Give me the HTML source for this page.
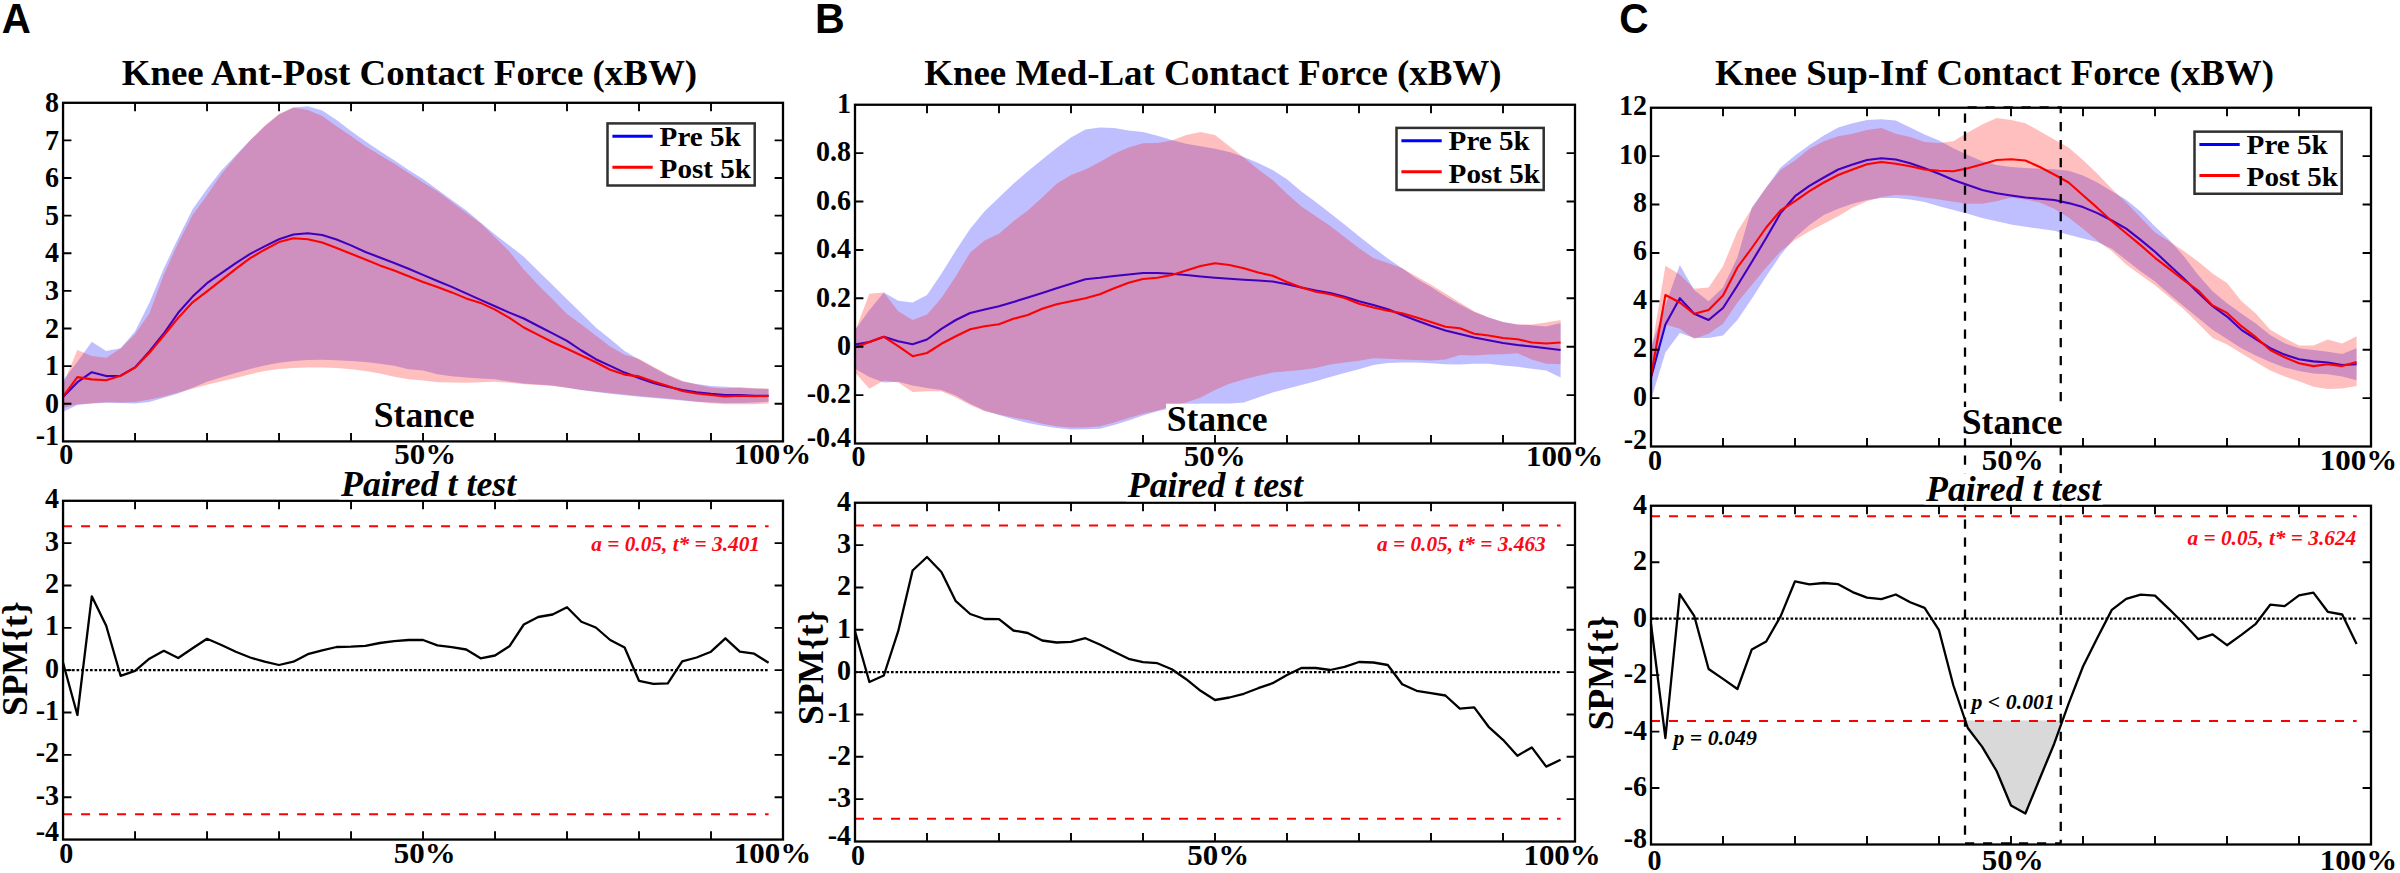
<!DOCTYPE html>
<html lang="en"><head><meta charset="utf-8"><title>Knee contact force SPM figure</title>
<style>html,body{margin:0;padding:0;background:#fff}svg{display:block}</style></head>
<body><svg width="2400" height="873" viewBox="0 0 2400 873">
<rect x="0" y="0" width="2400" height="873" fill="#fff"/>
<text transform="translate(1.64,32.90) scale(0.953,1)" font-family='"Liberation Sans", sans-serif' font-size="42.3" font-weight="bold" font-style="normal" text-anchor="start" fill="#000">A</text>
<text transform="translate(815.10,32.90) scale(0.973,1)" font-family='"Liberation Sans", sans-serif' font-size="42.3" font-weight="bold" font-style="normal" text-anchor="start" fill="#000">B</text>
<text transform="translate(1619.30,32.50) scale(0.96,1)" font-family='"Liberation Sans", sans-serif' font-size="42.3" font-weight="bold" font-style="normal" text-anchor="start" fill="#000">C</text>
<g>
<polygon points="63.0,380.5 77.4,361.7 91.8,341.7 106.2,350.9 120.6,348.3 135.0,331.5 149.4,302.7 163.8,268.4 178.2,238.0 192.6,209.3 207.0,189.0 221.4,170.4 235.8,155.2 250.2,140.3 264.6,126.6 279.0,114.6 293.4,107.6 307.8,106.3 322.2,110.4 336.6,119.9 351.0,131.1 365.4,141.2 379.8,151.1 394.2,160.3 408.6,169.9 423.0,179.1 437.4,189.4 451.8,199.9 466.2,210.3 480.6,222.4 495.0,234.4 509.4,245.5 523.8,256.7 538.2,270.9 552.6,285.0 567.0,299.2 581.4,313.3 595.8,327.5 610.2,339.1 624.6,351.0 639.0,359.5 653.4,367.5 667.8,375.3 682.2,381.4 696.6,384.1 711.0,386.0 725.4,386.8 739.8,388.0 754.2,388.6 768.6,388.9 768.6,401.8 754.2,402.5 739.8,402.9 725.4,403.0 711.0,402.6 696.6,401.7 682.2,400.6 667.8,399.3 653.4,398.0 639.0,396.8 624.6,395.3 610.2,393.7 595.8,392.0 581.4,390.1 567.0,387.7 552.6,385.5 538.2,384.6 523.8,383.6 509.4,381.4 495.0,379.3 480.6,378.4 466.2,377.6 451.8,376.3 437.4,374.2 423.0,370.5 408.6,369.2 394.2,365.7 379.8,363.7 365.4,362.1 351.0,361.0 336.6,360.2 322.2,359.8 307.8,360.1 293.4,361.0 279.0,362.8 264.6,365.5 250.2,369.0 235.8,373.0 221.4,377.2 207.0,381.8 192.6,387.8 178.2,393.6 163.8,397.7 149.4,401.9 135.0,403.6 120.6,402.9 106.2,402.7 91.8,403.5 77.4,405.0 63.0,411.8" fill="#0000ff" fill-opacity="0.25"/>
<polyline points="63.0,397.0 77.4,382.2 91.8,372.2 106.2,376.1 120.6,375.7 135.0,367.4 149.4,351.4 163.8,333.5 178.2,312.8 192.6,296.6 207.0,283.2 221.4,273.2 235.8,263.1 250.2,253.9 264.6,246.4 279.0,239.3 293.4,234.5 307.8,233.3 322.2,235.0 336.6,239.5 351.0,245.4 365.4,252.0 379.8,257.4 394.2,262.9 408.6,268.7 423.0,274.9 437.4,281.0 451.8,286.9 466.2,293.4 480.6,299.9 495.0,306.2 509.4,312.6 523.8,318.5 538.2,326.0 552.6,333.4 567.0,340.9 581.4,350.5 595.8,359.2 610.2,365.9 624.6,372.6 639.0,377.9 653.4,383.1 667.8,386.8 682.2,390.1 696.6,392.4 711.0,393.9 725.4,395.0 739.8,395.0 754.2,395.7 768.6,395.7" fill="none" stroke="#0000ff" stroke-width="2.1" stroke-linejoin="round"/>
<polygon points="63.0,384.6 77.4,350.0 91.8,356.0 106.2,357.8 120.6,348.4 135.0,334.2 149.4,313.5 163.8,274.8 178.2,243.0 192.6,215.1 207.0,195.3 221.4,174.2 235.8,156.4 250.2,140.3 264.6,125.8 279.0,113.9 293.4,107.5 307.8,110.0 322.2,116.1 336.6,126.2 351.0,136.1 365.4,146.2 379.8,154.9 394.2,163.6 408.6,172.9 423.0,182.4 437.4,191.2 451.8,201.9 466.2,212.8 480.6,223.2 495.0,237.3 509.4,251.5 523.8,269.4 538.2,285.0 552.6,299.2 567.0,314.0 581.4,324.5 595.8,335.6 610.2,346.6 624.6,354.8 639.0,358.8 653.4,366.7 667.8,374.6 682.2,380.8 696.6,384.5 711.0,387.5 725.4,388.6 739.8,387.1 754.2,388.3 768.6,388.6 768.6,403.5 754.2,404.2 739.8,404.2 725.4,404.2 711.0,403.3 696.6,401.7 682.2,400.1 667.8,398.5 653.4,397.2 639.0,396.0 624.6,394.6 610.2,393.1 595.8,391.6 581.4,389.9 567.0,387.8 552.6,386.0 538.2,385.1 523.8,384.3 509.4,382.7 495.0,381.8 480.6,382.3 466.2,382.7 451.8,382.6 437.4,382.2 423.0,380.5 408.6,379.2 394.2,376.8 379.8,373.5 365.4,371.0 351.0,369.2 336.6,368.1 322.2,367.5 307.8,367.6 293.4,368.0 279.0,369.1 264.6,371.0 250.2,374.2 235.8,378.0 221.4,381.3 207.0,384.7 192.6,388.8 178.2,392.6 163.8,396.4 149.4,399.5 135.0,402.1 120.6,402.5 106.2,402.2 91.8,403.2 77.4,404.2 63.0,408.0" fill="#ff0000" fill-opacity="0.25"/>
<polyline points="63.0,396.7 77.4,377.1 91.8,379.4 106.2,380.2 120.6,375.8 135.0,367.7 149.4,352.8 163.8,335.5 178.2,317.9 192.6,302.3 207.0,291.4 221.4,280.2 235.8,268.9 250.2,258.2 264.6,249.7 279.0,242.1 293.4,238.3 307.8,239.2 322.2,242.4 336.6,248.0 351.0,253.7 365.4,259.5 379.8,265.4 394.2,270.6 408.6,276.2 423.0,281.9 437.4,287.0 451.8,292.4 466.2,298.4 480.6,302.9 495.0,309.6 509.4,317.8 523.8,327.5 538.2,334.9 552.6,342.3 567.0,348.8 581.4,355.5 595.8,362.3 610.2,369.7 624.6,374.6 639.0,376.4 653.4,381.6 667.8,386.0 682.2,391.0 696.6,393.5 711.0,395.0 725.4,396.5 739.8,395.7 754.2,396.2 768.6,396.0" fill="none" stroke="#ff0000" stroke-width="2.1" stroke-linejoin="round"/>
</g>
<path d="M135.05,441.40v-8.4M135.05,102.80v8.4M207.04,441.40v-8.4M207.04,102.80v8.4M279.04,441.40v-8.4M279.04,102.80v8.4M351.03,441.40v-8.4M351.03,102.80v8.4M423.03,441.40v-8.4M423.03,102.80v8.4M495.02,441.40v-8.4M495.02,102.80v8.4M567.01,441.40v-8.4M567.01,102.80v8.4M639.01,441.40v-8.4M639.01,102.80v8.4M711.00,441.40v-8.4M711.00,102.80v8.4M63.05,140.42h8.4M783.00,140.42h-8.4M63.05,178.04h8.4M783.00,178.04h-8.4M63.05,215.67h8.4M783.00,215.67h-8.4M63.05,253.29h8.4M783.00,253.29h-8.4M63.05,290.91h8.4M783.00,290.91h-8.4M63.05,328.53h8.4M783.00,328.53h-8.4M63.05,366.16h8.4M783.00,366.16h-8.4M63.05,403.78h8.4M783.00,403.78h-8.4" stroke="#000" stroke-width="1.9" fill="none"/>
<rect x="63.05" y="102.80" width="719.95" height="338.60" fill="none" stroke="#000" stroke-width="2.3"/>
<text transform="translate(59.05,112.00) scale(0.96,1)" font-family='"Liberation Serif", serif' font-size="29.2" font-weight="bold" font-style="normal" text-anchor="end" fill="#000">8</text>
<text transform="translate(59.05,149.62) scale(0.96,1)" font-family='"Liberation Serif", serif' font-size="29.2" font-weight="bold" font-style="normal" text-anchor="end" fill="#000">7</text>
<text transform="translate(59.05,187.24) scale(0.96,1)" font-family='"Liberation Serif", serif' font-size="29.2" font-weight="bold" font-style="normal" text-anchor="end" fill="#000">6</text>
<text transform="translate(59.05,224.87) scale(0.96,1)" font-family='"Liberation Serif", serif' font-size="29.2" font-weight="bold" font-style="normal" text-anchor="end" fill="#000">5</text>
<text transform="translate(59.05,262.49) scale(0.96,1)" font-family='"Liberation Serif", serif' font-size="29.2" font-weight="bold" font-style="normal" text-anchor="end" fill="#000">4</text>
<text transform="translate(59.05,300.11) scale(0.96,1)" font-family='"Liberation Serif", serif' font-size="29.2" font-weight="bold" font-style="normal" text-anchor="end" fill="#000">3</text>
<text transform="translate(59.05,337.73) scale(0.96,1)" font-family='"Liberation Serif", serif' font-size="29.2" font-weight="bold" font-style="normal" text-anchor="end" fill="#000">2</text>
<text transform="translate(59.05,375.36) scale(0.96,1)" font-family='"Liberation Serif", serif' font-size="29.2" font-weight="bold" font-style="normal" text-anchor="end" fill="#000">1</text>
<text transform="translate(59.05,412.98) scale(0.96,1)" font-family='"Liberation Serif", serif' font-size="29.2" font-weight="bold" font-style="normal" text-anchor="end" fill="#000">0</text>
<text transform="translate(59.05,444.60) scale(0.96,1)" font-family='"Liberation Serif", serif' font-size="29.2" font-weight="bold" font-style="normal" text-anchor="end" fill="#000">-1</text>
<text transform="translate(121.75,85.00) scale(1.04,1)" font-family='"Liberation Serif", serif' font-size="35.5" font-weight="bold" font-style="normal" text-anchor="start" fill="#000">Knee Ant-Post Contact Force (xBW)</text>
<rect x="607.5" y="123.4" width="147.2" height="62.1" fill="#fff" stroke="#303030" stroke-width="2.5"/>
<path d="M612.40,136.25h40.3" stroke="#0000ff" stroke-width="3"/>
<path d="M612.40,167.20h40.3" stroke="#ff0000" stroke-width="3"/>
<text transform="translate(659.60,145.70) scale(1.04,1)" font-family='"Liberation Serif", serif' font-size="28.0" font-weight="bold" font-style="normal" text-anchor="start" fill="#000">Pre 5k</text>
<text transform="translate(659.60,178.00) scale(1.04,1)" font-family='"Liberation Serif", serif' font-size="28.0" font-weight="bold" font-style="normal" text-anchor="start" fill="#000">Post 5k</text>
<rect x="373.10" y="399.90" width="102.20" height="31.3" fill="#fff"/>
<text transform="translate(424.20,427.10) scale(0.995,1)" font-family='"Liberation Serif", serif' font-size="35.8" font-weight="bold" font-style="normal" text-anchor="middle" fill="#000">Stance</text>
<text transform="translate(66.20,464.40) scale(0.96,1)" font-family='"Liberation Serif", serif' font-size="29.2" font-weight="bold" font-style="normal" text-anchor="middle" fill="#000">0</text>
<text transform="translate(425.20,464.40) scale(1.06,1)" font-family='"Liberation Serif", serif' font-size="29.2" font-weight="bold" font-style="normal" text-anchor="middle" fill="#000">50%</text>
<text transform="translate(772.50,464.40) scale(1.06,1)" font-family='"Liberation Serif", serif' font-size="29.2" font-weight="bold" font-style="normal" text-anchor="middle" fill="#000">100%</text>
<g>
<polygon points="855.0,330.0 869.4,310.0 883.8,292.5 898.2,300.8 912.6,302.5 927.0,295.0 941.4,273.8 955.8,250.5 970.2,228.8 984.6,211.2 999.0,197.5 1013.4,183.8 1027.8,171.2 1042.2,159.5 1056.6,148.0 1071.0,137.5 1085.4,129.5 1099.8,127.5 1114.2,128.0 1128.6,130.5 1143.0,132.0 1157.4,135.8 1171.8,140.0 1186.2,143.8 1200.6,146.2 1215.0,148.8 1229.4,152.0 1243.8,157.0 1258.2,163.0 1272.6,170.0 1287.0,179.2 1301.4,191.6 1315.8,202.0 1330.2,213.2 1344.6,224.4 1359.0,236.3 1373.4,247.5 1387.8,258.6 1402.2,268.3 1416.6,278.8 1431.0,287.0 1445.4,296.2 1459.8,304.5 1474.2,312.0 1488.6,317.5 1503.0,322.0 1517.4,324.5 1531.8,325.2 1546.2,326.5 1560.6,323.0 1560.6,377.5 1546.2,370.5 1531.8,368.8 1517.4,366.8 1503.0,365.5 1488.6,363.8 1474.2,363.8 1459.8,364.5 1445.4,364.2 1431.0,363.2 1416.6,362.5 1402.2,362.5 1387.8,363.0 1373.4,365.0 1359.0,369.2 1344.6,373.0 1330.2,377.0 1315.8,381.2 1301.4,385.0 1287.0,388.8 1272.6,392.5 1258.2,397.5 1243.8,402.5 1229.4,403.8 1215.0,403.8 1200.6,403.8 1186.2,405.5 1171.8,408.0 1157.4,411.2 1143.0,415.5 1128.6,420.5 1114.2,425.0 1099.8,428.8 1085.4,429.2 1071.0,429.5 1056.6,428.0 1042.2,425.8 1027.8,423.0 1013.4,419.2 999.0,415.0 984.6,410.5 970.2,403.8 955.8,395.5 941.4,390.0 927.0,388.0 912.6,385.5 898.2,381.8 883.8,382.5 869.4,377.0 855.0,368.8" fill="#0000ff" fill-opacity="0.25"/>
<polyline points="855.0,344.5 869.4,342.0 883.8,336.8 898.2,341.2 912.6,344.2 927.0,339.5 941.4,328.8 955.8,320.0 970.2,313.0 984.6,309.5 999.0,306.2 1013.4,302.0 1027.8,297.5 1042.2,293.0 1056.6,288.2 1071.0,283.8 1085.4,279.2 1099.8,277.8 1114.2,276.0 1128.6,274.5 1143.0,273.0 1157.4,273.0 1171.8,273.8 1186.2,275.0 1200.6,276.5 1215.0,277.8 1229.4,278.8 1243.8,279.8 1258.2,280.5 1272.6,281.5 1287.0,284.2 1301.4,287.5 1315.8,290.5 1330.2,293.0 1344.6,296.8 1359.0,301.2 1373.4,305.0 1387.8,309.2 1402.2,315.0 1416.6,320.5 1431.0,325.8 1445.4,330.5 1459.8,334.0 1474.2,337.5 1488.6,340.2 1503.0,343.0 1517.4,345.0 1531.8,346.5 1546.2,348.2 1560.6,350.0" fill="none" stroke="#0000ff" stroke-width="2.1" stroke-linejoin="round"/>
<polygon points="855.0,331.2 869.4,293.8 883.8,292.5 898.2,311.2 912.6,320.0 927.0,314.5 941.4,298.0 955.8,276.2 970.2,252.5 984.6,240.5 999.0,233.8 1013.4,221.2 1027.8,210.5 1042.2,197.5 1056.6,183.8 1071.0,175.0 1085.4,169.5 1099.8,162.0 1114.2,153.8 1128.6,147.5 1143.0,143.2 1157.4,143.0 1171.8,140.5 1186.2,135.0 1200.6,132.0 1215.0,135.0 1229.4,146.2 1243.8,157.5 1258.2,169.5 1272.6,180.0 1287.0,193.8 1301.4,206.5 1315.8,216.2 1330.2,225.9 1344.6,237.0 1359.0,248.2 1373.4,257.9 1387.8,263.1 1402.2,268.3 1416.6,276.5 1431.0,284.7 1445.4,293.6 1459.8,302.5 1474.2,311.2 1488.6,317.5 1503.0,322.0 1517.4,324.5 1531.8,324.5 1546.2,322.5 1560.6,320.0 1560.6,364.2 1546.2,363.8 1531.8,359.5 1517.4,353.2 1503.0,354.2 1488.6,354.5 1474.2,355.5 1459.8,355.0 1445.4,359.5 1431.0,360.5 1416.6,360.0 1402.2,359.5 1387.8,358.8 1373.4,358.2 1359.0,360.8 1344.6,362.5 1330.2,364.5 1315.8,368.0 1301.4,370.0 1287.0,371.2 1272.6,372.5 1258.2,375.8 1243.8,379.5 1229.4,383.8 1215.0,390.0 1200.6,397.5 1186.2,402.5 1171.8,406.2 1157.4,410.5 1143.0,413.8 1128.6,418.0 1114.2,422.5 1099.8,426.2 1085.4,427.5 1071.0,427.5 1056.6,426.2 1042.2,423.8 1027.8,420.0 1013.4,417.5 999.0,414.5 984.6,411.2 970.2,405.0 955.8,397.5 941.4,391.2 927.0,391.2 912.6,392.0 898.2,382.5 883.8,380.5 869.4,388.8 855.0,372.5" fill="#ff0000" fill-opacity="0.25"/>
<polyline points="855.0,347.5 869.4,342.0 883.8,336.8 898.2,346.2 912.6,356.2 927.0,353.0 941.4,343.8 955.8,336.2 970.2,329.2 984.6,326.2 999.0,324.2 1013.4,318.8 1027.8,315.0 1042.2,308.8 1056.6,304.2 1071.0,301.2 1085.4,298.2 1099.8,294.2 1114.2,288.2 1128.6,282.8 1143.0,279.0 1157.4,277.8 1171.8,275.0 1186.2,270.5 1200.6,266.0 1215.0,263.2 1229.4,265.0 1243.8,268.2 1258.2,272.5 1272.6,275.8 1287.0,282.0 1301.4,287.5 1315.8,291.8 1330.2,294.2 1344.6,298.0 1359.0,303.8 1373.4,307.5 1387.8,310.8 1402.2,313.2 1416.6,317.5 1431.0,322.0 1445.4,326.8 1459.8,328.2 1474.2,333.8 1488.6,335.5 1503.0,338.0 1517.4,339.2 1531.8,342.5 1546.2,343.5 1560.6,342.5" fill="none" stroke="#ff0000" stroke-width="2.1" stroke-linejoin="round"/>
</g>
<path d="M927.00,443.50v-8.4M927.00,104.75v8.4M999.00,443.50v-8.4M999.00,104.75v8.4M1071.00,443.50v-8.4M1071.00,104.75v8.4M1143.00,443.50v-8.4M1143.00,104.75v8.4M1215.00,443.50v-8.4M1215.00,104.75v8.4M1287.00,443.50v-8.4M1287.00,104.75v8.4M1359.00,443.50v-8.4M1359.00,104.75v8.4M1431.00,443.50v-8.4M1431.00,104.75v8.4M1503.00,443.50v-8.4M1503.00,104.75v8.4M855.00,153.14h8.4M1575.00,153.14h-8.4M855.00,201.54h8.4M1575.00,201.54h-8.4M855.00,249.93h8.4M1575.00,249.93h-8.4M855.00,298.32h8.4M1575.00,298.32h-8.4M855.00,346.71h8.4M1575.00,346.71h-8.4M855.00,395.11h8.4M1575.00,395.11h-8.4" stroke="#000" stroke-width="1.9" fill="none"/>
<rect x="855.00" y="104.75" width="720.00" height="338.75" fill="none" stroke="#000" stroke-width="2.3"/>
<text transform="translate(851.00,112.95) scale(0.96,1)" font-family='"Liberation Serif", serif' font-size="29.2" font-weight="bold" font-style="normal" text-anchor="end" fill="#000">1</text>
<text transform="translate(851.00,161.34) scale(0.96,1)" font-family='"Liberation Serif", serif' font-size="29.2" font-weight="bold" font-style="normal" text-anchor="end" fill="#000">0.8</text>
<text transform="translate(851.00,209.74) scale(0.96,1)" font-family='"Liberation Serif", serif' font-size="29.2" font-weight="bold" font-style="normal" text-anchor="end" fill="#000">0.6</text>
<text transform="translate(851.00,258.13) scale(0.96,1)" font-family='"Liberation Serif", serif' font-size="29.2" font-weight="bold" font-style="normal" text-anchor="end" fill="#000">0.4</text>
<text transform="translate(851.00,306.52) scale(0.96,1)" font-family='"Liberation Serif", serif' font-size="29.2" font-weight="bold" font-style="normal" text-anchor="end" fill="#000">0.2</text>
<text transform="translate(851.00,354.91) scale(0.96,1)" font-family='"Liberation Serif", serif' font-size="29.2" font-weight="bold" font-style="normal" text-anchor="end" fill="#000">0</text>
<text transform="translate(851.00,403.31) scale(0.96,1)" font-family='"Liberation Serif", serif' font-size="29.2" font-weight="bold" font-style="normal" text-anchor="end" fill="#000">-0.2</text>
<text transform="translate(851.00,447.10) scale(0.96,1)" font-family='"Liberation Serif", serif' font-size="29.2" font-weight="bold" font-style="normal" text-anchor="end" fill="#000">-0.4</text>
<text transform="translate(924.25,85.00) scale(1.04,1)" font-family='"Liberation Serif", serif' font-size="35.5" font-weight="bold" font-style="normal" text-anchor="start" fill="#000">Knee Med-Lat Contact Force (xBW)</text>
<rect x="1396.5" y="127.9" width="147.2" height="62.1" fill="#fff" stroke="#303030" stroke-width="2.5"/>
<path d="M1401.40,140.75h40.3" stroke="#0000ff" stroke-width="3"/>
<path d="M1401.40,171.70h40.3" stroke="#ff0000" stroke-width="3"/>
<text transform="translate(1448.60,150.20) scale(1.04,1)" font-family='"Liberation Serif", serif' font-size="28.0" font-weight="bold" font-style="normal" text-anchor="start" fill="#000">Pre 5k</text>
<text transform="translate(1448.60,182.50) scale(1.04,1)" font-family='"Liberation Serif", serif' font-size="28.0" font-weight="bold" font-style="normal" text-anchor="start" fill="#000">Post 5k</text>
<rect x="1166.00" y="403.70" width="102.20" height="31.3" fill="#fff"/>
<text transform="translate(1217.10,430.90) scale(0.995,1)" font-family='"Liberation Serif", serif' font-size="35.8" font-weight="bold" font-style="normal" text-anchor="middle" fill="#000">Stance</text>
<text transform="translate(858.50,466.30) scale(0.96,1)" font-family='"Liberation Serif", serif' font-size="29.2" font-weight="bold" font-style="normal" text-anchor="middle" fill="#000">0</text>
<text transform="translate(1214.70,466.30) scale(1.06,1)" font-family='"Liberation Serif", serif' font-size="29.2" font-weight="bold" font-style="normal" text-anchor="middle" fill="#000">50%</text>
<text transform="translate(1564.60,466.30) scale(1.06,1)" font-family='"Liberation Serif", serif' font-size="29.2" font-weight="bold" font-style="normal" text-anchor="middle" fill="#000">100%</text>
<g>
<polygon points="1651.0,347.5 1665.4,305.0 1679.8,265.0 1694.2,290.0 1708.6,301.2 1723.0,287.5 1737.4,257.5 1751.8,207.5 1766.2,187.5 1780.6,167.5 1795.0,155.5 1809.4,145.0 1823.8,135.5 1838.2,127.5 1852.6,123.2 1867.0,120.0 1881.4,119.2 1895.8,120.5 1910.2,127.5 1924.6,134.5 1939.0,140.5 1953.4,148.2 1967.8,155.0 1982.2,161.2 1996.6,165.0 2011.0,167.0 2025.4,168.0 2039.8,168.8 2054.2,169.2 2068.6,170.8 2083.0,175.5 2097.4,182.5 2111.8,191.2 2126.2,199.7 2140.6,211.6 2155.0,226.5 2169.4,239.9 2183.8,256.3 2198.2,274.9 2212.6,291.3 2227.0,303.2 2241.4,313.6 2255.8,323.4 2270.2,335.0 2284.6,343.2 2299.0,348.2 2313.4,350.0 2327.8,351.8 2342.2,354.0 2356.6,348.2 2356.6,380.2 2342.2,376.6 2327.8,374.2 2313.4,373.5 2299.0,371.1 2284.6,367.4 2270.2,361.9 2255.8,355.5 2241.4,348.2 2227.0,339.0 2212.6,329.8 2198.2,318.1 2183.8,306.2 2169.4,294.3 2155.0,281.6 2140.6,271.2 2126.2,260.0 2111.8,248.8 2097.4,242.1 2083.0,238.4 2068.6,234.7 2054.2,230.8 2039.8,228.8 2025.4,226.8 2011.0,224.5 1996.6,221.2 1982.2,218.0 1967.8,213.8 1953.4,210.0 1939.0,206.2 1924.6,202.0 1910.2,199.5 1895.8,198.0 1881.4,198.0 1867.0,200.0 1852.6,203.8 1838.2,208.8 1823.8,215.0 1809.4,225.0 1795.0,237.5 1780.6,255.0 1766.2,276.2 1751.8,298.8 1737.4,320.0 1723.0,335.5 1708.6,338.0 1694.2,338.0 1679.8,333.0 1665.4,352.5 1651.0,400.0" fill="#0000ff" fill-opacity="0.25"/>
<polyline points="1651.0,377.5 1665.4,324.5 1679.8,298.2 1694.2,313.8 1708.6,320.0 1723.0,308.0 1737.4,285.5 1751.8,262.0 1766.2,238.0 1780.6,213.0 1795.0,196.2 1809.4,185.8 1823.8,177.5 1838.2,169.5 1852.6,164.5 1867.0,160.0 1881.4,158.2 1895.8,159.5 1910.2,163.2 1924.6,168.2 1939.0,173.8 1953.4,180.0 1967.8,185.0 1982.2,190.0 1996.6,193.2 2011.0,195.5 2025.4,197.5 2039.8,198.8 2054.2,200.0 2068.6,203.1 2083.0,207.1 2097.4,213.1 2111.8,220.5 2126.2,228.7 2140.6,239.9 2155.0,251.8 2169.4,265.2 2183.8,278.6 2198.2,292.8 2212.6,306.2 2227.0,316.6 2241.4,329.8 2255.8,339.0 2270.2,348.2 2284.6,354.6 2299.0,359.2 2313.4,361.4 2327.8,362.5 2342.2,365.0 2356.6,364.3" fill="none" stroke="#0000ff" stroke-width="2.1" stroke-linejoin="round"/>
<polygon points="1651.0,352.5 1665.4,265.8 1679.8,274.5 1694.2,288.8 1708.6,287.5 1723.0,266.2 1737.4,231.2 1751.8,208.8 1766.2,187.5 1780.6,170.0 1795.0,160.5 1809.4,148.8 1823.8,141.2 1838.2,136.2 1852.6,133.8 1867.0,130.0 1881.4,128.0 1895.8,133.8 1910.2,137.0 1924.6,142.0 1939.0,143.0 1953.4,141.2 1967.8,132.5 1982.2,124.5 1996.6,118.0 2011.0,120.0 2025.4,123.2 2039.8,131.2 2054.2,139.5 2068.6,147.5 2083.0,160.0 2097.4,173.8 2111.8,188.8 2126.2,202.5 2140.6,217.5 2155.0,232.5 2169.4,241.4 2183.8,251.1 2198.2,261.5 2212.6,273.4 2227.0,283.1 2241.4,301.0 2255.8,313.6 2270.2,329.8 2284.6,338.1 2299.0,345.4 2313.4,345.6 2327.8,339.4 2342.2,343.6 2356.6,336.2 2356.6,386.1 2342.2,388.5 2327.8,388.9 2313.4,386.7 2299.0,381.2 2284.6,376.6 2270.2,370.5 2255.8,361.9 2241.4,353.3 2227.0,344.5 2212.6,338.1 2198.2,323.4 2183.8,309.2 2169.4,297.2 2155.0,285.3 2140.6,274.9 2126.2,264.5 2111.8,251.1 2097.4,240.8 2083.0,228.8 2068.6,217.5 2054.2,208.8 2039.8,202.5 2025.4,199.5 2011.0,197.5 1996.6,201.2 1982.2,203.8 1967.8,203.8 1953.4,201.8 1939.0,199.5 1924.6,197.5 1910.2,195.5 1895.8,195.0 1881.4,197.0 1867.0,201.2 1852.6,207.5 1838.2,216.2 1823.8,223.8 1809.4,231.2 1795.0,240.0 1780.6,251.2 1766.2,267.5 1751.8,285.0 1737.4,302.5 1723.0,323.8 1708.6,333.8 1694.2,338.8 1679.8,328.8 1665.4,324.5 1651.0,380.0" fill="#ff0000" fill-opacity="0.25"/>
<polyline points="1651.0,376.2 1665.4,295.0 1679.8,302.5 1694.2,313.8 1708.6,310.0 1723.0,295.5 1737.4,267.5 1751.8,248.0 1766.2,227.5 1780.6,210.5 1795.0,201.2 1809.4,191.2 1823.8,182.5 1838.2,175.0 1852.6,169.5 1867.0,164.2 1881.4,162.0 1895.8,163.8 1910.2,166.2 1924.6,169.5 1939.0,170.8 1953.4,171.2 1967.8,168.2 1982.2,164.2 1996.6,160.0 2011.0,159.2 2025.4,160.5 2039.8,167.0 2054.2,174.5 2068.6,182.5 2083.0,195.2 2097.4,207.9 2111.8,221.3 2126.2,233.2 2140.6,245.1 2155.0,257.8 2169.4,268.9 2183.8,280.1 2198.2,290.5 2212.6,305.4 2227.0,312.9 2241.4,326.2 2255.8,337.2 2270.2,350.0 2284.6,357.3 2299.0,363.2 2313.4,366.1 2327.8,364.3 2342.2,366.1 2356.6,361.9" fill="none" stroke="#ff0000" stroke-width="2.1" stroke-linejoin="round"/>
</g>
<polygon points="1965.3,720.6 1967.8,728.0 1982.2,746.9 1996.6,771.0 2011.0,805.5 2025.4,813.5 2039.8,778.5 2054.2,743.7 2062.5,720.6" fill="#d9d9d9"/>
<path d="M1965,474V107.3H2060.75V474" fill="none" stroke="#000" stroke-width="2.3" stroke-dasharray="9.2 8.8" stroke-dashoffset="8.75"/>
<path d="M1965,843.5V504" fill="none" stroke="#000" stroke-width="2.3" stroke-dasharray="9.2 8.8" stroke-dashoffset="9.2"/>
<path d="M2060.75,504V843.5" fill="none" stroke="#000" stroke-width="2.3" stroke-dasharray="9.2 8.8" stroke-dashoffset="6.3"/>
<path d="M1965,843.5H2060.75" fill="none" stroke="#000" stroke-width="2.3" stroke-dasharray="9.2 8.8" stroke-dashoffset="0"/>
<path d="M1723.00,446.50v-8.4M1723.00,107.75v8.4M1795.00,446.50v-8.4M1795.00,107.75v8.4M1867.00,446.50v-8.4M1867.00,107.75v8.4M1939.00,446.50v-8.4M1939.00,107.75v8.4M2011.00,446.50v-8.4M2011.00,107.75v8.4M2083.00,446.50v-8.4M2083.00,107.75v8.4M2155.00,446.50v-8.4M2155.00,107.75v8.4M2227.00,446.50v-8.4M2227.00,107.75v8.4M2299.00,446.50v-8.4M2299.00,107.75v8.4M1651.00,156.14h8.4M2371.00,156.14h-8.4M1651.00,204.54h8.4M2371.00,204.54h-8.4M1651.00,252.93h8.4M2371.00,252.93h-8.4M1651.00,301.32h8.4M2371.00,301.32h-8.4M1651.00,349.71h8.4M2371.00,349.71h-8.4M1651.00,398.11h8.4M2371.00,398.11h-8.4" stroke="#000" stroke-width="1.9" fill="none"/>
<rect x="1651.00" y="107.75" width="720.00" height="338.75" fill="none" stroke="#000" stroke-width="2.3"/>
<text transform="translate(1647.00,115.25) scale(0.96,1)" font-family='"Liberation Serif", serif' font-size="29.2" font-weight="bold" font-style="normal" text-anchor="end" fill="#000">12</text>
<text transform="translate(1647.00,163.64) scale(0.96,1)" font-family='"Liberation Serif", serif' font-size="29.2" font-weight="bold" font-style="normal" text-anchor="end" fill="#000">10</text>
<text transform="translate(1647.00,212.04) scale(0.96,1)" font-family='"Liberation Serif", serif' font-size="29.2" font-weight="bold" font-style="normal" text-anchor="end" fill="#000">8</text>
<text transform="translate(1647.00,260.43) scale(0.96,1)" font-family='"Liberation Serif", serif' font-size="29.2" font-weight="bold" font-style="normal" text-anchor="end" fill="#000">6</text>
<text transform="translate(1647.00,308.82) scale(0.96,1)" font-family='"Liberation Serif", serif' font-size="29.2" font-weight="bold" font-style="normal" text-anchor="end" fill="#000">4</text>
<text transform="translate(1647.00,357.21) scale(0.96,1)" font-family='"Liberation Serif", serif' font-size="29.2" font-weight="bold" font-style="normal" text-anchor="end" fill="#000">2</text>
<text transform="translate(1647.00,405.61) scale(0.96,1)" font-family='"Liberation Serif", serif' font-size="29.2" font-weight="bold" font-style="normal" text-anchor="end" fill="#000">0</text>
<text transform="translate(1647.00,449.00) scale(0.96,1)" font-family='"Liberation Serif", serif' font-size="29.2" font-weight="bold" font-style="normal" text-anchor="end" fill="#000">-2</text>
<text transform="translate(1715.00,85.00) scale(1.04,1)" font-family='"Liberation Serif", serif' font-size="35.5" font-weight="bold" font-style="normal" text-anchor="start" fill="#000">Knee Sup-Inf Contact Force (xBW)</text>
<rect x="2194.5" y="131.65" width="147.2" height="62.1" fill="#fff" stroke="#303030" stroke-width="2.5"/>
<path d="M2199.40,144.50h40.3" stroke="#0000ff" stroke-width="3"/>
<path d="M2199.40,175.45h40.3" stroke="#ff0000" stroke-width="3"/>
<text transform="translate(2246.60,153.95) scale(1.04,1)" font-family='"Liberation Serif", serif' font-size="28.0" font-weight="bold" font-style="normal" text-anchor="start" fill="#000">Pre 5k</text>
<text transform="translate(2246.60,186.25) scale(1.04,1)" font-family='"Liberation Serif", serif' font-size="28.0" font-weight="bold" font-style="normal" text-anchor="start" fill="#000">Post 5k</text>
<rect x="1961.10" y="407.00" width="102.20" height="31.3" fill="#fff"/>
<text transform="translate(2012.20,434.20) scale(0.995,1)" font-family='"Liberation Serif", serif' font-size="35.8" font-weight="bold" font-style="normal" text-anchor="middle" fill="#000">Stance</text>
<text transform="translate(1655.00,469.80) scale(0.96,1)" font-family='"Liberation Serif", serif' font-size="29.2" font-weight="bold" font-style="normal" text-anchor="middle" fill="#000">0</text>
<text transform="translate(2012.70,469.80) scale(1.06,1)" font-family='"Liberation Serif", serif' font-size="29.2" font-weight="bold" font-style="normal" text-anchor="middle" fill="#000">50%</text>
<text transform="translate(2358.40,469.80) scale(1.06,1)" font-family='"Liberation Serif", serif' font-size="29.2" font-weight="bold" font-style="normal" text-anchor="middle" fill="#000">100%</text>
<path d="M63.05,670.17H768.60" stroke="#000" stroke-width="2.4" stroke-dasharray="2.6 1.9" fill="none"/>
<path d="M63.05,526.16H768.60" stroke="#ff0000" stroke-width="2" stroke-dasharray="9 9" fill="none"/>
<path d="M63.05,814.19H768.60" stroke="#ff0000" stroke-width="2" stroke-dasharray="9 9" fill="none"/>
<polyline points="63.0,662.5 77.4,715.0 91.8,596.3 106.2,625.8 120.6,675.8 135.0,670.8 149.4,658.7 163.8,650.8 178.2,658.0 192.6,648.3 207.0,638.8 221.4,645.0 235.8,651.7 250.2,657.5 264.6,661.7 279.0,665.0 293.4,661.7 307.8,654.2 322.2,650.3 336.6,647.0 351.0,646.7 365.4,645.8 379.8,643.0 394.2,641.2 408.6,640.0 423.0,640.0 437.4,645.3 451.8,647.2 466.2,649.5 480.6,658.3 495.0,655.5 509.4,646.3 523.8,624.5 538.2,617.0 552.6,614.5 567.0,607.2 581.4,621.7 595.8,627.5 610.2,640.0 624.6,647.5 639.0,680.8 653.4,683.8 667.8,683.3 682.2,661.3 696.6,657.5 711.0,651.7 725.4,638.3 739.8,651.7 754.2,653.7 768.6,662.8" fill="none" stroke="#000" stroke-width="2.3" stroke-linejoin="round"/>
<path d="M135.05,839.55v-8.4M135.05,500.80v8.4M207.04,839.55v-8.4M207.04,500.80v8.4M279.04,839.55v-8.4M279.04,500.80v8.4M351.03,839.55v-8.4M351.03,500.80v8.4M423.03,839.55v-8.4M423.03,500.80v8.4M495.02,839.55v-8.4M495.02,500.80v8.4M567.01,839.55v-8.4M567.01,500.80v8.4M639.01,839.55v-8.4M639.01,500.80v8.4M711.00,839.55v-8.4M711.00,500.80v8.4M63.05,543.14h8.4M783.00,543.14h-8.4M63.05,585.49h8.4M783.00,585.49h-8.4M63.05,627.83h8.4M783.00,627.83h-8.4M63.05,670.17h8.4M783.00,670.17h-8.4M63.05,712.52h8.4M783.00,712.52h-8.4M63.05,754.86h8.4M783.00,754.86h-8.4M63.05,797.21h8.4M783.00,797.21h-8.4" stroke="#000" stroke-width="1.9" fill="none"/>
<rect x="63.05" y="500.80" width="719.95" height="338.75" fill="none" stroke="#000" stroke-width="2.3"/>
<text transform="translate(59.05,508.40) scale(0.96,1)" font-family='"Liberation Serif", serif' font-size="29.2" font-weight="bold" font-style="normal" text-anchor="end" fill="#000">4</text>
<text transform="translate(59.05,550.74) scale(0.96,1)" font-family='"Liberation Serif", serif' font-size="29.2" font-weight="bold" font-style="normal" text-anchor="end" fill="#000">3</text>
<text transform="translate(59.05,593.09) scale(0.96,1)" font-family='"Liberation Serif", serif' font-size="29.2" font-weight="bold" font-style="normal" text-anchor="end" fill="#000">2</text>
<text transform="translate(59.05,635.43) scale(0.96,1)" font-family='"Liberation Serif", serif' font-size="29.2" font-weight="bold" font-style="normal" text-anchor="end" fill="#000">1</text>
<text transform="translate(59.05,677.77) scale(0.96,1)" font-family='"Liberation Serif", serif' font-size="29.2" font-weight="bold" font-style="normal" text-anchor="end" fill="#000">0</text>
<text transform="translate(59.05,720.12) scale(0.96,1)" font-family='"Liberation Serif", serif' font-size="29.2" font-weight="bold" font-style="normal" text-anchor="end" fill="#000">-1</text>
<text transform="translate(59.05,762.46) scale(0.96,1)" font-family='"Liberation Serif", serif' font-size="29.2" font-weight="bold" font-style="normal" text-anchor="end" fill="#000">-2</text>
<text transform="translate(59.05,804.81) scale(0.96,1)" font-family='"Liberation Serif", serif' font-size="29.2" font-weight="bold" font-style="normal" text-anchor="end" fill="#000">-3</text>
<text transform="translate(59.05,841.15) scale(0.96,1)" font-family='"Liberation Serif", serif' font-size="29.2" font-weight="bold" font-style="normal" text-anchor="end" fill="#000">-4</text>
<rect x="339.20" y="468.30" width="178.60" height="31.3" fill="#fff"/>
<text transform="translate(341.00,495.50) scale(0.993,1)" font-family='"Liberation Serif", serif' font-size="36.1" font-weight="bold" font-style="italic" text-anchor="start" fill="#000">Paired t test</text>
<text transform="translate(760.00,550.50) scale(1.035,1)" font-family='"Liberation Serif", serif' font-size="20.6" font-weight="bold" font-style="italic" text-anchor="end" fill="#fa0a14">a = 0.05, t* = 3.401</text>
<text transform="translate(66.20,862.60) scale(0.96,1)" font-family='"Liberation Serif", serif' font-size="29.2" font-weight="bold" font-style="normal" text-anchor="middle" fill="#000">0</text>
<text transform="translate(424.70,862.60) scale(1.06,1)" font-family='"Liberation Serif", serif' font-size="29.2" font-weight="bold" font-style="normal" text-anchor="middle" fill="#000">50%</text>
<text transform="translate(772.50,862.60) scale(1.06,1)" font-family='"Liberation Serif", serif' font-size="29.2" font-weight="bold" font-style="normal" text-anchor="middle" fill="#000">100%</text>
<text transform="translate(26.60,658.70) rotate(-90) scale(1.0,1)" font-family='"Liberation Serif", serif' font-size="35.5" font-weight="bold" font-style="normal" text-anchor="middle" fill="#000">SPM{t}</text>
<path d="M855.00,672.12H1560.60" stroke="#000" stroke-width="2.4" stroke-dasharray="2.6 1.9" fill="none"/>
<path d="M855.00,525.49H1560.60" stroke="#ff0000" stroke-width="2" stroke-dasharray="9 9" fill="none"/>
<path d="M855.00,818.76H1560.60" stroke="#ff0000" stroke-width="2" stroke-dasharray="9 9" fill="none"/>
<polyline points="855.0,631.2 869.4,682.0 883.8,675.5 898.2,631.2 912.6,570.5 927.0,557.0 941.4,572.0 955.8,601.2 970.2,614.0 984.6,619.0 999.0,619.2 1013.4,630.5 1027.8,633.0 1042.2,640.5 1056.6,642.5 1071.0,641.8 1085.4,638.2 1099.8,644.5 1114.2,651.8 1128.6,658.8 1143.0,662.2 1157.4,663.2 1171.8,669.2 1186.2,679.2 1200.6,690.8 1215.0,700.0 1229.4,697.5 1243.8,693.8 1258.2,688.2 1272.6,683.2 1287.0,675.0 1301.4,668.0 1315.8,668.0 1330.2,670.0 1344.6,666.8 1359.0,662.0 1373.4,662.5 1387.8,665.0 1402.2,684.2 1416.6,690.8 1431.0,693.2 1445.4,695.5 1459.8,708.7 1474.2,707.4 1488.6,726.8 1503.0,739.8 1517.4,755.7 1531.8,747.4 1546.2,766.6 1560.6,759.8" fill="none" stroke="#000" stroke-width="2.3" stroke-linejoin="round"/>
<path d="M927.00,841.50v-8.4M927.00,502.75v8.4M999.00,841.50v-8.4M999.00,502.75v8.4M1071.00,841.50v-8.4M1071.00,502.75v8.4M1143.00,841.50v-8.4M1143.00,502.75v8.4M1215.00,841.50v-8.4M1215.00,502.75v8.4M1287.00,841.50v-8.4M1287.00,502.75v8.4M1359.00,841.50v-8.4M1359.00,502.75v8.4M1431.00,841.50v-8.4M1431.00,502.75v8.4M1503.00,841.50v-8.4M1503.00,502.75v8.4M855.00,545.09h8.4M1575.00,545.09h-8.4M855.00,587.44h8.4M1575.00,587.44h-8.4M855.00,629.78h8.4M1575.00,629.78h-8.4M855.00,672.12h8.4M1575.00,672.12h-8.4M855.00,714.47h8.4M1575.00,714.47h-8.4M855.00,756.81h8.4M1575.00,756.81h-8.4M855.00,799.16h8.4M1575.00,799.16h-8.4" stroke="#000" stroke-width="1.9" fill="none"/>
<rect x="855.00" y="502.75" width="720.00" height="338.75" fill="none" stroke="#000" stroke-width="2.3"/>
<text transform="translate(851.00,510.55) scale(0.96,1)" font-family='"Liberation Serif", serif' font-size="29.2" font-weight="bold" font-style="normal" text-anchor="end" fill="#000">4</text>
<text transform="translate(851.00,552.89) scale(0.96,1)" font-family='"Liberation Serif", serif' font-size="29.2" font-weight="bold" font-style="normal" text-anchor="end" fill="#000">3</text>
<text transform="translate(851.00,595.24) scale(0.96,1)" font-family='"Liberation Serif", serif' font-size="29.2" font-weight="bold" font-style="normal" text-anchor="end" fill="#000">2</text>
<text transform="translate(851.00,637.58) scale(0.96,1)" font-family='"Liberation Serif", serif' font-size="29.2" font-weight="bold" font-style="normal" text-anchor="end" fill="#000">1</text>
<text transform="translate(851.00,679.92) scale(0.96,1)" font-family='"Liberation Serif", serif' font-size="29.2" font-weight="bold" font-style="normal" text-anchor="end" fill="#000">0</text>
<text transform="translate(851.00,722.27) scale(0.96,1)" font-family='"Liberation Serif", serif' font-size="29.2" font-weight="bold" font-style="normal" text-anchor="end" fill="#000">-1</text>
<text transform="translate(851.00,764.61) scale(0.96,1)" font-family='"Liberation Serif", serif' font-size="29.2" font-weight="bold" font-style="normal" text-anchor="end" fill="#000">-2</text>
<text transform="translate(851.00,806.96) scale(0.96,1)" font-family='"Liberation Serif", serif' font-size="29.2" font-weight="bold" font-style="normal" text-anchor="end" fill="#000">-3</text>
<text transform="translate(851.00,844.50) scale(0.96,1)" font-family='"Liberation Serif", serif' font-size="29.2" font-weight="bold" font-style="normal" text-anchor="end" fill="#000">-4</text>
<rect x="1125.95" y="470.05" width="178.60" height="31.3" fill="#fff"/>
<text transform="translate(1127.75,497.25) scale(0.993,1)" font-family='"Liberation Serif", serif' font-size="36.1" font-weight="bold" font-style="italic" text-anchor="start" fill="#000">Paired t test</text>
<text transform="translate(1545.75,551.00) scale(1.035,1)" font-family='"Liberation Serif", serif' font-size="20.6" font-weight="bold" font-style="italic" text-anchor="end" fill="#fa0a14">a = 0.05, t* = 3.463</text>
<text transform="translate(858.00,864.60) scale(0.96,1)" font-family='"Liberation Serif", serif' font-size="29.2" font-weight="bold" font-style="normal" text-anchor="middle" fill="#000">0</text>
<text transform="translate(1218.20,864.60) scale(1.06,1)" font-family='"Liberation Serif", serif' font-size="29.2" font-weight="bold" font-style="normal" text-anchor="middle" fill="#000">50%</text>
<text transform="translate(1562.10,864.60) scale(1.06,1)" font-family='"Liberation Serif", serif' font-size="29.2" font-weight="bold" font-style="normal" text-anchor="middle" fill="#000">100%</text>
<text transform="translate(823.00,667.70) rotate(-90) scale(1.0,1)" font-family='"Liberation Serif", serif' font-size="35.5" font-weight="bold" font-style="normal" text-anchor="middle" fill="#000">SPM{t}</text>
<path d="M1651.00,618.67H2356.60" stroke="#000" stroke-width="2.4" stroke-dasharray="2.6 1.9" fill="none"/>
<path d="M1651.00,516.36H2356.60" stroke="#ff0000" stroke-width="2" stroke-dasharray="9 9" fill="none"/>
<path d="M1651.00,720.97H2356.60" stroke="#ff0000" stroke-width="2" stroke-dasharray="9 9" fill="none"/>
<polyline points="1651.0,624.0 1665.4,738.0 1679.8,594.1 1694.2,615.8 1708.6,669.0 1723.0,678.9 1737.4,689.0 1751.8,649.4 1766.2,641.5 1780.6,616.4 1795.0,581.3 1809.4,584.4 1823.8,583.0 1838.2,584.2 1852.6,592.1 1867.0,597.6 1881.4,599.1 1895.8,594.5 1910.2,602.2 1924.6,607.9 1939.0,630.2 1953.4,685.5 1967.8,728.0 1982.2,746.9 1996.6,771.0 2011.0,805.5 2025.4,813.5 2039.8,778.5 2054.2,743.7 2068.6,703.6 2083.0,666.5 2097.4,637.7 2111.8,609.9 2126.2,598.8 2140.6,594.7 2155.0,595.6 2169.4,609.3 2183.8,623.8 2198.2,639.2 2212.6,634.4 2227.0,645.2 2241.4,634.9 2255.8,623.8 2270.2,604.7 2284.6,606.2 2299.0,595.4 2313.4,592.6 2327.8,611.8 2342.2,614.5 2356.6,643.9" fill="none" stroke="#000" stroke-width="2.3" stroke-linejoin="round"/>
<path d="M1723.00,844.50v-8.4M1723.00,505.75v8.4M1795.00,844.50v-8.4M1795.00,505.75v8.4M1867.00,844.50v-8.4M1867.00,505.75v8.4M1939.00,844.50v-8.4M1939.00,505.75v8.4M2011.00,844.50v-8.4M2011.00,505.75v8.4M2083.00,844.50v-8.4M2083.00,505.75v8.4M2155.00,844.50v-8.4M2155.00,505.75v8.4M2227.00,844.50v-8.4M2227.00,505.75v8.4M2299.00,844.50v-8.4M2299.00,505.75v8.4M1651.00,562.21h8.4M2371.00,562.21h-8.4M1651.00,618.67h8.4M2371.00,618.67h-8.4M1651.00,675.12h8.4M2371.00,675.12h-8.4M1651.00,731.58h8.4M2371.00,731.58h-8.4M1651.00,788.04h8.4M2371.00,788.04h-8.4" stroke="#000" stroke-width="1.9" fill="none"/>
<rect x="1651.00" y="505.75" width="720.00" height="338.75" fill="none" stroke="#000" stroke-width="2.3"/>
<text transform="translate(1647.00,513.85) scale(0.96,1)" font-family='"Liberation Serif", serif' font-size="29.2" font-weight="bold" font-style="normal" text-anchor="end" fill="#000">4</text>
<text transform="translate(1647.00,570.31) scale(0.96,1)" font-family='"Liberation Serif", serif' font-size="29.2" font-weight="bold" font-style="normal" text-anchor="end" fill="#000">2</text>
<text transform="translate(1647.00,626.77) scale(0.96,1)" font-family='"Liberation Serif", serif' font-size="29.2" font-weight="bold" font-style="normal" text-anchor="end" fill="#000">0</text>
<text transform="translate(1647.00,683.23) scale(0.96,1)" font-family='"Liberation Serif", serif' font-size="29.2" font-weight="bold" font-style="normal" text-anchor="end" fill="#000">-2</text>
<text transform="translate(1647.00,739.68) scale(0.96,1)" font-family='"Liberation Serif", serif' font-size="29.2" font-weight="bold" font-style="normal" text-anchor="end" fill="#000">-4</text>
<text transform="translate(1647.00,796.14) scale(0.96,1)" font-family='"Liberation Serif", serif' font-size="29.2" font-weight="bold" font-style="normal" text-anchor="end" fill="#000">-6</text>
<text transform="translate(1647.00,847.80) scale(0.96,1)" font-family='"Liberation Serif", serif' font-size="29.2" font-weight="bold" font-style="normal" text-anchor="end" fill="#000">-8</text>
<rect x="1924.20" y="473.30" width="178.60" height="31.3" fill="#fff"/>
<text transform="translate(1926.00,500.50) scale(0.993,1)" font-family='"Liberation Serif", serif' font-size="36.1" font-weight="bold" font-style="italic" text-anchor="start" fill="#000">Paired t test</text>
<text transform="translate(2356.25,544.75) scale(1.035,1)" font-family='"Liberation Serif", serif' font-size="20.6" font-weight="bold" font-style="italic" text-anchor="end" fill="#fa0a14">a = 0.05, t* = 3.624</text>
<text transform="translate(1654.50,869.70) scale(0.96,1)" font-family='"Liberation Serif", serif' font-size="29.2" font-weight="bold" font-style="normal" text-anchor="middle" fill="#000">0</text>
<text transform="translate(2012.70,869.70) scale(1.06,1)" font-family='"Liberation Serif", serif' font-size="29.2" font-weight="bold" font-style="normal" text-anchor="middle" fill="#000">50%</text>
<text transform="translate(2358.40,869.70) scale(1.06,1)" font-family='"Liberation Serif", serif' font-size="29.2" font-weight="bold" font-style="normal" text-anchor="middle" fill="#000">100%</text>
<text transform="translate(1613.00,672.90) rotate(-90) scale(1.0,1)" font-family='"Liberation Serif", serif' font-size="35.5" font-weight="bold" font-style="normal" text-anchor="middle" fill="#000">SPM{t}</text>
<text transform="translate(1971.50,708.75) scale(1.06,1)" font-family='"Liberation Serif", serif' font-size="20.6" font-weight="bold" font-style="italic" text-anchor="start" fill="#000">p &lt; 0.001</text>
<text transform="translate(1673.50,744.50) scale(1.06,1)" font-family='"Liberation Serif", serif' font-size="20.6" font-weight="bold" font-style="italic" text-anchor="start" fill="#000">p = 0.049</text>
</svg></body></html>
